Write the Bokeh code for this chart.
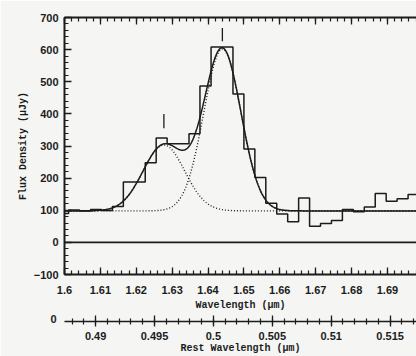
import numpy as np
from bokeh.plotting import figure
from bokeh.models import (Range1d, LinearAxis, SingleIntervalTicker, Title,
                          CustomJSTickFormatter, CustomLabelingPolicy, Span)
from bokeh.embed import file_html
from bokeh.resources import INLINE

# ---- data ----
obs_wavelength = [1.5996, 1.6027, 1.6057, 1.6088, 1.6118, 1.6149, 1.6179, 1.6210,
                  1.6240, 1.6271, 1.6301, 1.6332, 1.6362, 1.6393, 1.6424, 1.6454,
                  1.6485, 1.6515, 1.6546, 1.6576, 1.6607, 1.6637, 1.6668, 1.6698,
                  1.6729, 1.6759, 1.6790, 1.6820, 1.6851, 1.6881, 1.6912, 1.6942,
                  1.6973, 1.7003]
flux = [90, 101, 98, 102, 99, 112, 188, 188,
        248, 325, 307, 307, 338, 487, 608, 608,
        462, 291, 202, 122, 88, 64, 138, 50,
        59, 68, 102, 95, 110, 152, 128, 136,
        149, 150]

line_center = [1.6277, 1.6440]      # fitted line centres (um)
line_amplitude = [205, 504]         # uJy above continuum
line_sigma = [0.0058, 0.0052]       # um
continuum = 98                      # uJy

marker_wavelength = [1.6277, 1.6440]
marker_low = [355, 626]
marker_high = [400, 667]

one_plus_z = 3.283
x_lo, x_hi = 1.6, 1.6981
y_lo, y_hi = -100, 700

INK = "#1c1c1c"
PAPER = "#f5f5f3"
TICK_FONT = "Liberation Sans"
TITLE_FONT = "Liberation Mono"

fmt = CustomJSTickFormatter(code="return String(parseFloat(tick.toFixed(4)));")

p = figure(width=416, height=356,
           x_range=Range1d(x_lo, x_hi), y_range=Range1d(y_lo, y_hi),
           output_backend="svg", toolbar_location=None,
           min_border_left=64, min_border_right=0, min_border_top=17,
           min_border_bottom=82,
           background_fill_color=PAPER, border_fill_color=PAPER,
           outline_line_color=None)
p.grid.visible = False
p.extra_x_ranges = {"rest": Range1d(x_lo / one_plus_z, x_hi / one_plus_z)}

# bottom (observed) axis
xa = p.xaxis[0]
xa.ticker = SingleIntervalTicker(interval=0.01, num_minor_ticks=5)
xa.formatter = fmt
xa.axis_label = "Wavelength (μm)"
# left axis
ya = p.yaxis[0]
ya.ticker = SingleIntervalTicker(interval=100, num_minor_ticks=5)
ya.axis_label = "Flux Density (μJy)"

# top axis: ticks only
hide_all = CustomLabelingPolicy(code="""
    const all = [];
    for (const i of indices) all.push(i);
    for (const i of all) indices.unset(i);
    return indices;
""")
top = LinearAxis(ticker=SingleIntervalTicker(interval=0.01, num_minor_ticks=5),
                 major_label_policy=hide_all, major_label_standoff=0,
                 major_label_text_font_size="8px")
p.add_layout(top, "above")

for ax in (xa, ya, top):
    ax.axis_line_color = INK
    ax.axis_line_width = 2
    ax.major_tick_line_color = INK
    ax.minor_tick_line_color = INK
    ax.major_tick_line_width = 1.3
    ax.minor_tick_line_width = 1.2
    ax.major_tick_in = 7
    ax.major_tick_out = 0
    ax.minor_tick_in = 4
    ax.minor_tick_out = 0
    ax.major_label_text_color = INK
    ax.major_label_text_font = TICK_FONT
    ax.major_label_text_font_style = "bold"
    ax.axis_label_text_color = INK
    ax.axis_label_text_font = TITLE_FONT
    ax.axis_label_text_font_style = "bold"
    ax.axis_label_text_font_size = "10px"

for ax in (xa, ya):
    ax.major_label_text_font_size = "11px"
xa.major_label_standoff = 11
xa.axis_label_standoff = 3
ya.major_label_standoff = 6
ya.axis_label_standoff = 2

# stray "0" at the left end of the rest-frame axis (also spaces the two axes)
p.add_layout(Title(text="0", align="left", offset=-14, standoff=-2,
                   vertical_align="bottom",
                   text_font=TICK_FONT, text_font_style="bold",
                   text_font_size="11px", text_color=INK), "below")

# rest-frame axis
ra = LinearAxis(x_range_name="rest",
                ticker=SingleIntervalTicker(interval=0.005, num_minor_ticks=5),
                formatter=fmt, axis_label="Rest Wavelength (μm)")
ra.axis_line_color = INK
ra.axis_line_width = 1.6
ra.major_tick_line_color = INK
ra.minor_tick_line_color = INK
ra.major_tick_line_width = 1.3
ra.minor_tick_line_width = 1.2
ra.major_tick_in = 6
ra.major_tick_out = 5
ra.minor_tick_in = 3
ra.minor_tick_out = 3
ra.major_label_standoff = 5
ra.major_label_text_color = INK
ra.major_label_text_font = TICK_FONT
ra.major_label_text_font_style = "bold"
ra.major_label_text_font_size = "11px"
ra.axis_label_standoff = 0
ra.axis_label_text_color = INK
ra.axis_label_text_font = TITLE_FONT
ra.axis_label_text_font_style = "bold"
ra.axis_label_text_font_size = "10px"
p.add_layout(ra, "below")

# model curves
xs = np.linspace(x_lo, x_hi, 600)
components = [continuum + a * np.exp(-0.5 * ((xs - c) / s) ** 2)
              for c, a, s in zip(line_center, line_amplitude, line_sigma)]
total = continuum + sum(comp - continuum for comp in components)

for comp in components:
    p.line(xs, comp, line_color=INK, line_width=1.4, line_dash="1 2")
p.line(xs, total, line_color=INK, line_width=1.5)

p.step(obs_wavelength, flux, mode="center", line_color=INK, line_width=1.5)

p.add_layout(Span(location=0, dimension="width", line_color=INK, line_width=1.8))

p.segment(x0=marker_wavelength, y0=marker_low, x1=marker_wavelength, y1=marker_high,
          line_color=INK, line_width=1.3)

open("out.html", "w").write(file_html(p, INLINE))
